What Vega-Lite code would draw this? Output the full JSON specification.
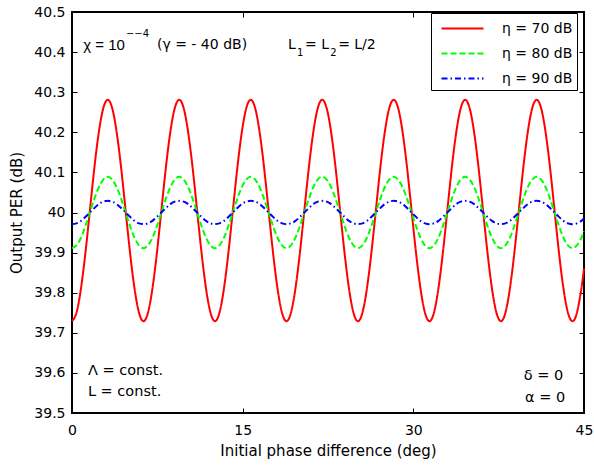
{
  "$schema": "https://vega.github.io/schema/vega-lite/v6.json",
  "width": 512,
  "height": 401,
  "autosize": {"type": "none"},
  "padding": {"left": 72, "top": 12, "right": 10, "bottom": 55},
  "background": "white",
  "config": {
    "font": "DejaVu Sans",
    "view": {"stroke": "black", "strokeWidth": 2},
    "axis": {
      "grid": false,
      "domain": false,
      "tickSize": -5,
      "tickColor": "black",
      "tickWidth": 1,
      "labelFont": "DejaVu Sans",
      "labelFontSize": 14,
      "labelColor": "black",
      "titleFont": "DejaVu Sans",
      "titleFontSize": 15,
      "titleFontWeight": "normal",
      "titleColor": "black"
    },
    "legend": {
      "labelFont": "DejaVu Sans",
      "labelFontSize": 14,
      "labelColor": "black",
      "symbolType": "M-2,0H2",
      "symbolSize": 441,
      "symbolStrokeWidth": 2,
      "symbolOffset": 16,
      "strokeColor": "black",
      "fillColor": "white",
      "padding": 4,
      "rowPadding": 6,
      "labelOffset": 28,
      "cornerRadius": 0
    }
  },
  "datasets": {
    "curves": [
      {"x": 0, "r": 39.729, "g": 39.911, "b": 39.971},
      {"x": 0.393, "r": 39.750, "g": 39.918, "b": 39.973},
      {"x": 0.785, "r": 39.810, "g": 39.937, "b": 39.979},
      {"x": 1.178, "r": 39.899, "g": 39.966, "b": 39.989},
      {"x": 1.571, "r": 40.005, "g": 40.000, "b": 40.000},
      {"x": 1.963, "r": 40.111, "g": 40.034, "b": 40.011},
      {"x": 2.356, "r": 40.200, "g": 40.063, "b": 40.021},
      {"x": 2.749, "r": 40.260, "g": 40.082, "b": 40.027},
      {"x": 3.142, "r": 40.281, "g": 40.089, "b": 40.029},
      {"x": 3.534, "r": 40.260, "g": 40.082, "b": 40.027},
      {"x": 3.927, "r": 40.200, "g": 40.063, "b": 40.021},
      {"x": 4.320, "r": 40.111, "g": 40.034, "b": 40.011},
      {"x": 4.712, "r": 40.005, "g": 40.000, "b": 40.000},
      {"x": 5.105, "r": 39.899, "g": 39.966, "b": 39.989},
      {"x": 5.498, "r": 39.810, "g": 39.937, "b": 39.979},
      {"x": 5.890, "r": 39.750, "g": 39.918, "b": 39.973},
      {"x": 6.283, "r": 39.729, "g": 39.911, "b": 39.971},
      {"x": 6.676, "r": 39.750, "g": 39.918, "b": 39.973},
      {"x": 7.069, "r": 39.810, "g": 39.937, "b": 39.979},
      {"x": 7.461, "r": 39.899, "g": 39.966, "b": 39.989},
      {"x": 7.854, "r": 40.005, "g": 40.000, "b": 40.000},
      {"x": 8.247, "r": 40.111, "g": 40.034, "b": 40.011},
      {"x": 8.639, "r": 40.200, "g": 40.063, "b": 40.021},
      {"x": 9.032, "r": 40.260, "g": 40.082, "b": 40.027},
      {"x": 9.425, "r": 40.281, "g": 40.089, "b": 40.029},
      {"x": 9.817, "r": 40.260, "g": 40.082, "b": 40.027},
      {"x": 10.210, "r": 40.200, "g": 40.063, "b": 40.021},
      {"x": 10.603, "r": 40.111, "g": 40.034, "b": 40.011},
      {"x": 10.996, "r": 40.005, "g": 40.000, "b": 40.000},
      {"x": 11.388, "r": 39.899, "g": 39.966, "b": 39.989},
      {"x": 11.781, "r": 39.810, "g": 39.937, "b": 39.979},
      {"x": 12.174, "r": 39.750, "g": 39.918, "b": 39.973},
      {"x": 12.566, "r": 39.729, "g": 39.911, "b": 39.971},
      {"x": 12.959, "r": 39.750, "g": 39.918, "b": 39.973},
      {"x": 13.352, "r": 39.810, "g": 39.937, "b": 39.979},
      {"x": 13.744, "r": 39.899, "g": 39.966, "b": 39.989},
      {"x": 14.137, "r": 40.005, "g": 40.000, "b": 40.000},
      {"x": 14.530, "r": 40.111, "g": 40.034, "b": 40.011},
      {"x": 14.923, "r": 40.200, "g": 40.063, "b": 40.021},
      {"x": 15.315, "r": 40.260, "g": 40.082, "b": 40.027},
      {"x": 15.708, "r": 40.281, "g": 40.089, "b": 40.029},
      {"x": 16.101, "r": 40.260, "g": 40.082, "b": 40.027},
      {"x": 16.493, "r": 40.200, "g": 40.063, "b": 40.021},
      {"x": 16.886, "r": 40.111, "g": 40.034, "b": 40.011},
      {"x": 17.279, "r": 40.005, "g": 40.000, "b": 40.000},
      {"x": 17.671, "r": 39.899, "g": 39.966, "b": 39.989},
      {"x": 18.064, "r": 39.810, "g": 39.937, "b": 39.979},
      {"x": 18.457, "r": 39.750, "g": 39.918, "b": 39.973},
      {"x": 18.850, "r": 39.729, "g": 39.911, "b": 39.971},
      {"x": 19.242, "r": 39.750, "g": 39.918, "b": 39.973},
      {"x": 19.635, "r": 39.810, "g": 39.937, "b": 39.979},
      {"x": 20.028, "r": 39.899, "g": 39.966, "b": 39.989},
      {"x": 20.420, "r": 40.005, "g": 40.000, "b": 40.000},
      {"x": 20.813, "r": 40.111, "g": 40.034, "b": 40.011},
      {"x": 21.206, "r": 40.200, "g": 40.063, "b": 40.021},
      {"x": 21.598, "r": 40.260, "g": 40.082, "b": 40.027},
      {"x": 21.991, "r": 40.281, "g": 40.089, "b": 40.029},
      {"x": 22.384, "r": 40.260, "g": 40.082, "b": 40.027},
      {"x": 22.777, "r": 40.200, "g": 40.063, "b": 40.021},
      {"x": 23.169, "r": 40.111, "g": 40.034, "b": 40.011},
      {"x": 23.562, "r": 40.005, "g": 40.000, "b": 40.000},
      {"x": 23.955, "r": 39.899, "g": 39.966, "b": 39.989},
      {"x": 24.347, "r": 39.810, "g": 39.937, "b": 39.979},
      {"x": 24.740, "r": 39.750, "g": 39.918, "b": 39.973},
      {"x": 25.133, "r": 39.729, "g": 39.911, "b": 39.971},
      {"x": 25.525, "r": 39.750, "g": 39.918, "b": 39.973},
      {"x": 25.918, "r": 39.810, "g": 39.937, "b": 39.979},
      {"x": 26.311, "r": 39.899, "g": 39.966, "b": 39.989},
      {"x": 26.704, "r": 40.005, "g": 40.000, "b": 40.000},
      {"x": 27.096, "r": 40.111, "g": 40.034, "b": 40.011},
      {"x": 27.489, "r": 40.200, "g": 40.063, "b": 40.021},
      {"x": 27.882, "r": 40.260, "g": 40.082, "b": 40.027},
      {"x": 28.274, "r": 40.281, "g": 40.089, "b": 40.029},
      {"x": 28.667, "r": 40.260, "g": 40.082, "b": 40.027},
      {"x": 29.060, "r": 40.200, "g": 40.063, "b": 40.021},
      {"x": 29.452, "r": 40.111, "g": 40.034, "b": 40.011},
      {"x": 29.845, "r": 40.005, "g": 40.000, "b": 40.000},
      {"x": 30.238, "r": 39.899, "g": 39.966, "b": 39.989},
      {"x": 30.631, "r": 39.810, "g": 39.937, "b": 39.979},
      {"x": 31.023, "r": 39.750, "g": 39.918, "b": 39.973},
      {"x": 31.416, "r": 39.729, "g": 39.911, "b": 39.971},
      {"x": 31.809, "r": 39.750, "g": 39.918, "b": 39.973},
      {"x": 32.201, "r": 39.810, "g": 39.937, "b": 39.979},
      {"x": 32.594, "r": 39.899, "g": 39.966, "b": 39.989},
      {"x": 32.987, "r": 40.005, "g": 40.000, "b": 40.000},
      {"x": 33.379, "r": 40.111, "g": 40.034, "b": 40.011},
      {"x": 33.772, "r": 40.200, "g": 40.063, "b": 40.021},
      {"x": 34.165, "r": 40.260, "g": 40.082, "b": 40.027},
      {"x": 34.558, "r": 40.281, "g": 40.089, "b": 40.029},
      {"x": 34.950, "r": 40.260, "g": 40.082, "b": 40.027},
      {"x": 35.343, "r": 40.200, "g": 40.063, "b": 40.021},
      {"x": 35.736, "r": 40.111, "g": 40.034, "b": 40.011},
      {"x": 36.128, "r": 40.005, "g": 40.000, "b": 40.000},
      {"x": 36.521, "r": 39.899, "g": 39.966, "b": 39.989},
      {"x": 36.914, "r": 39.810, "g": 39.937, "b": 39.979},
      {"x": 37.306, "r": 39.750, "g": 39.918, "b": 39.973},
      {"x": 37.699, "r": 39.729, "g": 39.911, "b": 39.971},
      {"x": 38.092, "r": 39.750, "g": 39.918, "b": 39.973},
      {"x": 38.485, "r": 39.810, "g": 39.937, "b": 39.979},
      {"x": 38.877, "r": 39.899, "g": 39.966, "b": 39.989},
      {"x": 39.270, "r": 40.005, "g": 40.000, "b": 40.000},
      {"x": 39.663, "r": 40.111, "g": 40.034, "b": 40.011},
      {"x": 40.055, "r": 40.200, "g": 40.063, "b": 40.021},
      {"x": 40.448, "r": 40.260, "g": 40.082, "b": 40.027},
      {"x": 40.841, "r": 40.281, "g": 40.089, "b": 40.029},
      {"x": 41.233, "r": 40.260, "g": 40.082, "b": 40.027},
      {"x": 41.626, "r": 40.200, "g": 40.063, "b": 40.021},
      {"x": 42.019, "r": 40.111, "g": 40.034, "b": 40.011},
      {"x": 42.412, "r": 40.005, "g": 40.000, "b": 40.000},
      {"x": 42.804, "r": 39.899, "g": 39.966, "b": 39.989},
      {"x": 43.197, "r": 39.810, "g": 39.937, "b": 39.979},
      {"x": 43.590, "r": 39.750, "g": 39.918, "b": 39.973},
      {"x": 43.982, "r": 39.729, "g": 39.911, "b": 39.971},
      {"x": 44.375, "r": 39.750, "g": 39.918, "b": 39.973},
      {"x": 44.768, "r": 39.810, "g": 39.937, "b": 39.979},
      {"x": 45, "r": 39.860, "g": 39.953, "b": 39.985}
    ],
    "one": [{}]
  },
  "layer": [
    {
      "data": {"name": "curves"},
      "transform": [{"fold": ["r", "g", "b"], "as": ["series", "value"]}],
      "mark": {"type": "line", "strokeWidth": 2, "interpolate": "natural"},
      "encoding": {
        "x": {
          "field": "x", "type": "quantitative",
          "scale": {"domain": [0, 45], "nice": false},
          "axis": {"orient": "bottom", "values": [0, 15, 30, 45], "title": "Initial phase difference (deg)", "labelPadding": 15, "titlePadding": 6, "labelFlush": false}
        },
        "y": {
          "field": "value", "type": "quantitative",
          "scale": {"domain": [39.5, 40.5], "nice": false, "zero": false},
          "axis": {"orient": "left", "values": [39.5, 39.6, 39.7, 39.8, 39.9, 40, 40.1, 40.2, 40.3, 40.4, 40.5], "format": ".1~f", "title": "Output PER (dB)", "labelPadding": 12, "titlePadding": 9, "labelFlush": false}
        },
        "color": {
          "field": "series", "type": "nominal",
          "scale": {"domain": ["r", "g", "b"], "range": ["#ff0000", "#00ff00", "#0000ff"]},
          "legend": {"orient": "none", "legendX": 359, "legendY": 1, "title": null, "labelExpr": "{'r': 'η = 70 dB', 'g': 'η = 80 dB', 'b': 'η = 90 dB'}[datum.label]"}
        },
        "strokeDash": {
          "field": "series", "type": "nominal",
          "scale": {"domain": ["r", "g", "b"], "range": [[1, 0], [6, 3], [6, 3, 1.5, 3]]},
          "legend": {"orient": "none", "legendX": 359, "legendY": 1, "title": null, "labelExpr": "{'r': 'η = 70 dB', 'g': 'η = 80 dB', 'b': 'η = 90 dB'}[datum.label]"}
        }
      }
    },
    {
      "data": {"name": "curves"},
      "mark": {"type": "line", "opacity": 0},
      "encoding": {
        "x": {"field": "x", "type": "quantitative", "axis": {"orient": "top", "values": [0, 15, 30, 45], "labels": false, "title": null}},
        "y": {"field": "r", "type": "quantitative", "axis": {"orient": "right", "values": [39.5, 39.6, 39.7, 39.8, 39.9, 40, 40.1, 40.2, 40.3, 40.4, 40.5], "labels": false, "title": null}}
      }
    },
    {
      "data": {"name": "one"},
      "mark": {"type": "text", "text": "χ = 10", "font": "Liberation Sans", "fontSize": 15, "align": "right", "baseline": "middle", "color": "black"},
      "encoding": {"x": {"datum": 4.65, "type": "quantitative", "axis": null}, "y": {"datum": 40.418, "type": "quantitative", "axis": null}}
    },
    {
      "data": {"name": "one"},
      "mark": {"type": "text", "text": "−−4", "fontSize": 10, "align": "left", "baseline": "middle", "color": "black"},
      "encoding": {"x": {"datum": 4.74, "type": "quantitative", "axis": null}, "y": {"datum": 40.446, "type": "quantitative", "axis": null}}
    },
    {
      "data": {"name": "one"},
      "mark": {"type": "text", "text": "(γ = - 40 dB)", "fontSize": 14, "align": "left", "baseline": "middle", "color": "black"},
      "encoding": {"x": {"datum": 7.47, "type": "quantitative", "axis": null}, "y": {"datum": 40.418, "type": "quantitative", "axis": null}}
    },
    {
      "data": {"name": "one"},
      "mark": {"type": "text", "text": "L", "fontSize": 14, "align": "left", "baseline": "middle", "color": "black"},
      "encoding": {"x": {"datum": 18.99, "type": "quantitative", "axis": null}, "y": {"datum": 40.418, "type": "quantitative", "axis": null}}
    },
    {
      "data": {"name": "one"},
      "mark": {"type": "text", "text": "1", "fontSize": 10, "align": "left", "baseline": "middle", "color": "black"},
      "encoding": {"x": {"datum": 19.78, "type": "quantitative", "axis": null}, "y": {"datum": 40.398, "type": "quantitative", "axis": null}}
    },
    {
      "data": {"name": "one"},
      "mark": {"type": "text", "text": "= L", "fontSize": 14, "align": "left", "baseline": "middle", "color": "black"},
      "encoding": {"x": {"datum": 20.48, "type": "quantitative", "axis": null}, "y": {"datum": 40.418, "type": "quantitative", "axis": null}}
    },
    {
      "data": {"name": "one"},
      "mark": {"type": "text", "text": "2", "fontSize": 10, "align": "left", "baseline": "middle", "color": "black"},
      "encoding": {"x": {"datum": 22.7, "type": "quantitative", "axis": null}, "y": {"datum": 40.398, "type": "quantitative", "axis": null}}
    },
    {
      "data": {"name": "one"},
      "mark": {"type": "text", "text": "= L/2", "fontSize": 14, "align": "left", "baseline": "middle", "color": "black"},
      "encoding": {"x": {"datum": 23.39, "type": "quantitative", "axis": null}, "y": {"datum": 40.418, "type": "quantitative", "axis": null}}
    },
    {
      "data": {"name": "one"},
      "mark": {"type": "text", "text": "Λ = const.", "fontSize": 14.5, "align": "left", "baseline": "middle", "color": "black"},
      "encoding": {"x": {"datum": 1.4, "type": "quantitative", "axis": null}, "y": {"datum": 39.605, "type": "quantitative", "axis": null}}
    },
    {
      "data": {"name": "one"},
      "mark": {"type": "text", "text": "L = const.", "fontSize": 14.5, "align": "left", "baseline": "middle", "color": "black"},
      "encoding": {"x": {"datum": 1.4, "type": "quantitative", "axis": null}, "y": {"datum": 39.552, "type": "quantitative", "axis": null}}
    },
    {
      "data": {"name": "one"},
      "mark": {"type": "text", "text": "δ = 0", "fontSize": 14.5, "align": "right", "baseline": "middle", "color": "black"},
      "encoding": {"x": {"datum": 43.17, "type": "quantitative", "axis": null}, "y": {"datum": 39.592, "type": "quantitative", "axis": null}}
    },
    {
      "data": {"name": "one"},
      "mark": {"type": "text", "text": "α = 0", "fontSize": 14.5, "align": "right", "baseline": "middle", "color": "black"},
      "encoding": {"x": {"datum": 43.35, "type": "quantitative", "axis": null}, "y": {"datum": 39.537, "type": "quantitative", "axis": null}}
    }
  ],
  "resolve": {"axis": {"x": "independent", "y": "independent"}}
}
